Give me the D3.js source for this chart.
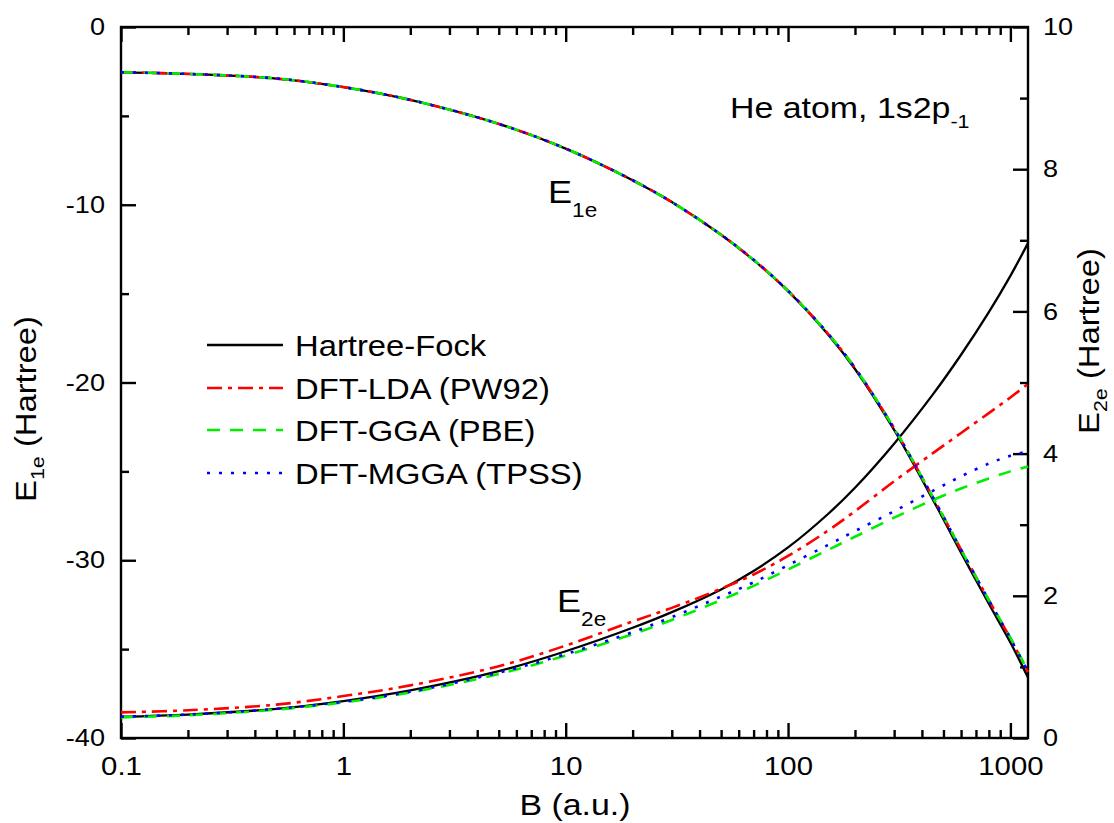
<!DOCTYPE html>
<html>
<head>
<meta charset="utf-8">
<script src="https://cdn.jsdelivr.net/npm/d3@7"></script>
<style>
  html, body { margin: 0; padding: 0; background: #fff; }
  svg { display: block; font-family: 'Liberation Sans', Arial, sans-serif; }
</style>
</head>
<body>
<div id="chart"></div>
<script>
// magnetic field values (a.u.) at which the curves were read
const fieldB = [0.1, 0.2, 0.5, 1, 2, 5, 10, 20, 30, 50, 70, 100, 150, 200, 300, 450, 600, 800, 1000, 1200];

// one-electron energy E1e (left axis, Hartree)
const e1eHF   = [-2.55, -2.64, -2.90, -3.38, -4.10, -5.45, -6.84, -8.62, -9.85, -11.69, -13.12, -14.86, -17.24, -19.24, -22.67, -26.63, -29.57, -32.45, -34.63, -36.6];
const e1eLDA  = [-2.55, -2.64, -2.90, -3.38, -4.10, -5.45, -6.84, -8.62, -9.85, -11.69, -13.10, -14.84, -17.2, -19.18, -22.58, -26.5, -29.4, -32.25, -34.4, -36.3];
const e1eGGA  = [-2.55, -2.64, -2.90, -3.38, -4.10, -5.45, -6.84, -8.62, -9.85, -11.69, -13.10, -14.84, -17.2, -19.18, -22.58, -26.5, -29.4, -32.25, -34.35, -36.25];
const e1eMGGA = [-2.55, -2.64, -2.90, -3.38, -4.10, -5.45, -6.84, -8.62, -9.85, -11.69, -13.10, -14.84, -17.2, -19.18, -22.58, -26.5, -29.4, -32.25, -34.4, -36.3];

// two-electron energy E2e (right axis, Hartree)
const e2eHF   = [0.30, 0.33, 0.41, 0.52, 0.67, 0.94, 1.22, 1.55, 1.77, 2.09, 2.35, 2.68, 3.14, 3.52, 4.14, 4.84, 5.39, 5.99, 6.50, 6.96];
const e2eLDA  = [0.36, 0.39, 0.47, 0.59, 0.74, 1.01, 1.30, 1.64, 1.83, 2.10, 2.30, 2.56, 2.91, 3.19, 3.61, 4.01, 4.29, 4.57, 4.79, 4.98];
const e2eGGA  = [0.29, 0.32, 0.40, 0.50, 0.64, 0.90, 1.16, 1.46, 1.66, 1.94, 2.14, 2.37, 2.64, 2.83, 3.10, 3.35, 3.51, 3.65, 3.75, 3.82];
const e2eMGGA = [0.30, 0.33, 0.41, 0.51, 0.65, 0.92, 1.18, 1.49, 1.70, 1.99, 2.19, 2.43, 2.71, 2.91, 3.19, 3.48, 3.68, 3.86, 3.97, 4.03];

const seriesNames = ['Hartree-Fock', 'DFT-LDA (PW92)', 'DFT-GGA (PBE)', 'DFT-MGGA (TPSS)'];
const seriesColors = ['#000000', '#ff0000', '#00ee00', '#0000ff'];
const seriesDashes = [null, '15,6,4,6', '13,10', '3,9'];

const xTickValues = [0.1, 1, 10, 100, 1000];
const xTickLabels = ['0.1', '1', '10', '100', '1000'];
const yLeftTicks = [-40, -30, -20, -10, 0];
const yLeftLabels = ['-40', '-30', '-20', '-10', '0'];
const yLeftMinor = [-35, -25, -15, -5];
const yRightTicks = [0, 2, 4, 6, 8, 10];
const yRightLabels = ['0', '2', '4', '6', '8', '10'];
const yRightMinor = [1, 3, 5, 7, 9];

const cfg = {
  width: 1114,
  height: 823,
  left: 121,
  right: 1028,
  top: 27,
  bottom: 738,
  stretch: 1.13,
  axisWidth: 2.4,
  major: 15,
  minor: 8,
};

const svg = d3.select('#chart').append('svg')
  .attr('width', cfg.width)
  .attr('height', cfg.height);

const x = d3.scaleLog().domain([0.1, 1200]).range([cfg.left, cfg.right]);
const yL = d3.scaleLinear().domain([-40, 0]).range([cfg.bottom, cfg.top]);
const yR = d3.scaleLinear().domain([0, 10]).range([cfg.bottom, cfg.top]);

// text is a bit wider than plain Arial in the original, so stretch along the reading direction
function richText(parent, px, py, parts, opts) {
  const o = Object.assign({ size: 29, sub: 19, shift: 9, anchor: 'start', rotate: 0 }, opts);
  const t = parent.append('text')
    .attr('transform', `translate(${px},${py}) rotate(${o.rotate}) scale(${cfg.stretch},1)`)
    .attr('font-size', o.size)
    .attr('text-anchor', o.anchor)
    .attr('fill', '#000');
  let inSub = false;
  parts.forEach((p) => {
    const ts = t.append('tspan').text(p.t);
    if (p.sub) {
      ts.attr('font-size', o.sub).attr('dy', o.shift);
      inSub = true;
    } else if (inSub) {
      ts.attr('dy', -o.shift);
      inSub = false;
    }
  });
  return t;
}

// minor ticks for the log axis
const xMinor = [];
[0.1, 1, 10, 100, 1000].forEach((d) => {
  for (let m = 2; m <= 9; m++) {
    const v = d * m;
    if (v <= 1200) xMinor.push(v);
  }
});

function styleAxis(g) {
  g.select('.domain').remove();
  g.selectAll('line').attr('stroke', '#000').attr('stroke-width', cfg.axisWidth);
}

// bottom axis
const gBottom = svg.append('g').attr('transform', `translate(0,${cfg.bottom})`)
  .call(d3.axisBottom(x).tickValues(xTickValues).tickFormat((d, i) => xTickLabels[i])
    .tickSizeInner(-cfg.major).tickSizeOuter(0).tickPadding(19))
  .call(styleAxis);
gBottom.selectAll('text')
  .attr('font-size', 26).attr('fill', '#000')
  .attr('transform', `scale(${cfg.stretch},1)`);
svg.append('g').attr('transform', `translate(0,${cfg.bottom})`)
  .call(d3.axisBottom(x).tickValues(xMinor).tickFormat('').tickSizeInner(-cfg.minor).tickSizeOuter(0))
  .call(styleAxis);

// top axis (mirror ticks)
svg.append('g').attr('transform', `translate(0,${cfg.top})`)
  .call(d3.axisTop(x).tickValues(xTickValues).tickFormat('').tickSizeInner(-cfg.major).tickSizeOuter(0))
  .call(styleAxis);
svg.append('g').attr('transform', `translate(0,${cfg.top})`)
  .call(d3.axisTop(x).tickValues(xMinor).tickFormat('').tickSizeInner(-cfg.minor).tickSizeOuter(0))
  .call(styleAxis);

// left axis
const gLeft = svg.append('g').attr('transform', `translate(${cfg.left},0)`)
  .call(d3.axisLeft(yL).tickValues(yLeftTicks).tickFormat((d, i) => yLeftLabels[i])
    .tickSizeInner(-cfg.major).tickSizeOuter(0))
  .call(styleAxis);
gLeft.selectAll('text')
  .attr('font-size', 24).attr('fill', '#000').attr('x', 0)
  .attr('transform', `translate(-16,0) scale(${cfg.stretch},1)`);
svg.append('g').attr('transform', `translate(${cfg.left},0)`)
  .call(d3.axisLeft(yL).tickValues(yLeftMinor).tickFormat('').tickSizeInner(-cfg.minor).tickSizeOuter(0))
  .call(styleAxis);

// right axis
const gRight = svg.append('g').attr('transform', `translate(${cfg.right},0)`)
  .call(d3.axisRight(yR).tickValues(yRightTicks).tickFormat((d, i) => yRightLabels[i])
    .tickSizeInner(-cfg.major).tickSizeOuter(0))
  .call(styleAxis);
gRight.selectAll('text')
  .attr('font-size', 24).attr('fill', '#000').attr('x', 0)
  .attr('transform', `translate(15,0) scale(${cfg.stretch},1)`);
svg.append('g').attr('transform', `translate(${cfg.right},0)`)
  .call(d3.axisRight(yR).tickValues(yRightMinor).tickFormat('').tickSizeInner(-cfg.minor).tickSizeOuter(0))
  .call(styleAxis);

// frame
svg.append('rect')
  .attr('x', cfg.left).attr('y', cfg.top)
  .attr('width', cfg.right - cfg.left).attr('height', cfg.bottom - cfg.top)
  .attr('fill', 'none').attr('stroke', '#000').attr('stroke-width', cfg.axisWidth);

// curves
const e1eSets = [e1eHF, e1eLDA, e1eGGA, e1eMGGA];
const e2eSets = [e2eHF, e2eLDA, e2eGGA, e2eMGGA];

const smooth = d3.curveCatmullRom.alpha(0.5);
const lineL = d3.line().x((d) => x(d[0])).y((d) => yL(d[1])).curve(smooth);
const lineR = d3.line().x((d) => x(d[0])).y((d) => yR(d[1])).curve(smooth);

const gLines = svg.append('g').attr('fill', 'none');
seriesNames.forEach((name, i) => {
  const w = i === 0 ? 2.3 : 2.6;
  gLines.append('path')
    .datum(fieldB.map((b, k) => [b, e1eSets[i][k]]))
    .attr('d', lineL)
    .attr('stroke', seriesColors[i])
    .attr('stroke-width', w)
    .attr('stroke-dasharray', seriesDashes[i]);
  gLines.append('path')
    .datum(fieldB.map((b, k) => [b, e2eSets[i][k]]))
    .attr('d', lineR)
    .attr('stroke', seriesColors[i])
    .attr('stroke-width', w)
    .attr('stroke-dasharray', seriesDashes[i]);
});

// legend
const legendRows = [345, 388, 430, 473];
const gLegend = svg.append('g');
seriesNames.forEach((name, i) => {
  gLegend.append('line')
    .attr('x1', 207).attr('x2', 283)
    .attr('y1', legendRows[i]).attr('y2', legendRows[i])
    .attr('stroke', seriesColors[i])
    .attr('stroke-width', i === 0 ? 2.3 : 2.6)
    .attr('stroke-dasharray', seriesDashes[i]);
  richText(gLegend, 295, legendRows[i] + 11, [{ t: name }], { size: 29 });
});

// annotations
richText(svg, 730, 118, [{ t: 'He atom, 1s2p' }, { t: '-1', sub: true }], { size: 30, sub: 19, shift: 10 });
richText(svg, 548, 203, [{ t: 'E' }, { t: '1e', sub: true }], { size: 32, sub: 20, shift: 14 });
richText(svg, 557, 612, [{ t: 'E' }, { t: '2e', sub: true }], { size: 32, sub: 20, shift: 14 });

// axis titles
richText(svg, 575, 815, [{ t: 'B (a.u.)' }], { size: 30, anchor: 'middle' });
richText(svg, 36, 409, [{ t: 'E' }, { t: '1e', sub: true }, { t: ' (Hartree)' }],
  { size: 29, sub: 19, shift: 8, anchor: 'middle', rotate: -90 });
richText(svg, 1099, 341, [{ t: 'E' }, { t: '2e', sub: true }, { t: ' (Hartree)' }],
  { size: 29, sub: 19, shift: 8, anchor: 'middle', rotate: -90 });
</script>
</body>
</html>
